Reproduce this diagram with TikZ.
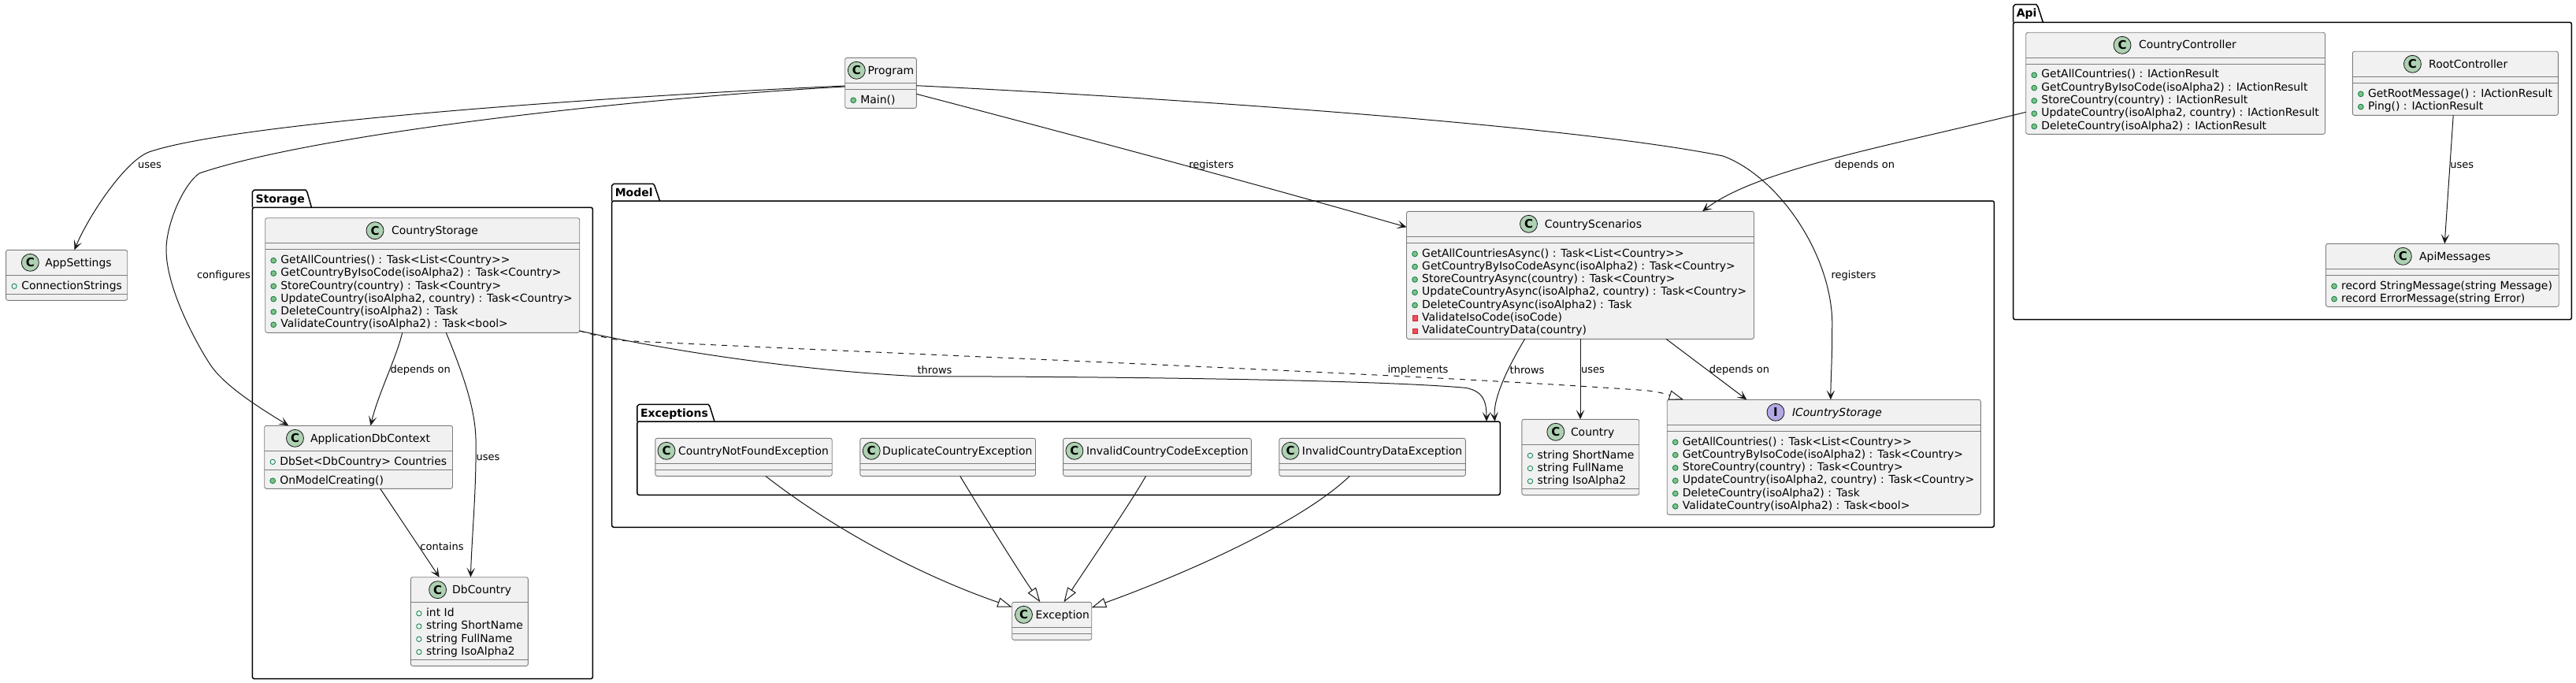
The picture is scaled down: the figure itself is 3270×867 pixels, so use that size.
\documentclass[tikz,border=0pt]{standalone}
\usepackage{fontspec}
\usetikzlibrary{arrows.meta}
\newfontfamily\djv{DejaVu Sans}
\definecolor{ln}{HTML}{181818}
\definecolor{boxfill}{HTML}{F1F1F1}
\definecolor{boxline}{HTML}{7C7C7C}
\definecolor{ccirc}{HTML}{ADD1B2}
\definecolor{icirc}{HTML}{B4A7E5}
\definecolor{pubfill}{HTML}{84BE84}
\definecolor{publine}{HTML}{038048}
\definecolor{privfill}{HTML}{F24D5C}
\definecolor{privline}{HTML}{C82930}
\tikzset{
  cbox/.style={draw=boxline,fill=boxfill,line width=.9pt,rounded corners=2.5pt,anchor=north west,inner sep=0pt,outer sep=0pt},
  sepline/.style={draw=boxline,line width=.9pt},
  titletxt/.style={anchor=base west,inner sep=0pt,font=\djv\fontsize{13.92}{16}\selectfont},
  rowtxt/.style={anchor=base west,inner sep=0pt,font=\djv\fontsize{13.92}{16}\selectfont},
  badge/.style={circle,draw=ln,line width=.8pt,minimum size=22pt,inner sep=0pt,font=\djv\bfseries\fontsize{15}{15}\selectfont},
  fielddot/.style={circle,draw=publine,line width=.8pt,minimum size=6.4pt,inner sep=0pt},
  methdot/.style={circle,draw=publine,fill=pubfill,line width=.8pt,minimum size=6.8pt,inner sep=0pt},
  privdot/.style={rectangle,draw=privline,fill=privfill,line width=.6pt,minimum size=6.4pt,inner sep=0pt},
  pkgbody/.style={draw=black,line width=1.5pt,rounded corners=2.5pt,anchor=north west,inner sep=0pt,outer sep=0pt},
  pkgtab/.style={draw=black,line width=1.5pt,line join=round},
  pkgtxt/.style={anchor=base west,inner sep=0pt,font=\djv\bfseries\fontsize{14}{16}\selectfont},
  conn/.style={draw=ln,line width=1pt,-{Stealth[length=12pt,width=10.5pt,inset=6pt]}},
  inherit/.style={draw=ln,line width=1pt,-{Triangle[open,fill=white,length=18.5pt,width=12.5pt]}},
  realize/.style={draw=ln,line width=1pt,dash pattern=on 7pt off 7pt,-{Triangle[open,fill=white,length=18.5pt,width=12.5pt,line width=1pt]}},
  edgelab/.style={anchor=center,inner sep=0pt,font=\djv\fontsize{13}{15}\selectfont}
}
\newcount\rowno
\def\theletter{C}\def\thecirc{ccirc}
% id x1 y1 x2 y2 sep2 cx tx title
\newcommand{\classbox}[9]{%
  \pgfmathsetmacro\bxw{#4-#2}\pgfmathsetmacro\bxh{#5-#3}%
  \pgfmathsetmacro\bxsa{#3+32}\pgfmathsetmacro\bxcy{#3+16}\pgfmathsetmacro\bxby{#3+20.7}%
  \node[cbox,minimum width=\bxw pt,minimum height=\bxh pt] (#1) at (#2,#3) {};
  \draw[sepline] (#2,\bxsa) -- (#4,\bxsa);
  \draw[sepline] (#2,#6) -- (#4,#6);
  \node[badge,fill=\thecirc] (#1-badge) at (#7,\bxcy) {\theletter};
  \node[titletxt] (#1-title) at (#8,\bxby) {#9};
}
\newcommand{\setrows}[3]{\def\curid{#1}\def\curx{#2}\def\cursep{#3}\rowno=0 }
\newcommand{\dorow}[2]{%
  \pgfmathsetmacro\rwy{\cursep+17.7+\the\rowno*16.3}%
  \pgfmathsetmacro\rwdy{\rwy-3.7}%
  \pgfmathsetmacro\rwdx{\curx+10.5}%
  \pgfmathsetmacro\rwtx{\curx+19.5}%
  \node[#1] (\curid-d\the\rowno) at (\rwdx,\rwdy) {};
  \node[rowtxt] (\curid-r\the\rowno) at (\rwtx,\rwy) {#2};
  \advance\rowno by 1 }
\newcommand{\frow}[1]{\dorow{fielddot}{#1}}
\newcommand{\mrow}[1]{\dorow{methdot}{#1}}
\newcommand{\prow}[1]{\dorow{privdot}{#1}}
% id x1 tabtop bodytop x2 y2 tabr tabr2 label
\newcommand{\package}[9]{%
  \pgfmathsetmacro\pkw{#5-#2}\pgfmathsetmacro\pkh{#6-#4}%
  \pgfmathsetmacro\pky{#3+16.3}\pgfmathsetmacro\pkx{#2+4}%
  \node[pkgbody,minimum width=\pkw pt,minimum height=\pkh pt] (#1) at (#2,#4) {};
  \draw[pkgtab] (#2,#4) -- (#2,#3+2.5) -- (#2+2.5,#3) -- (#7,#3) -- (#7+2,#3+2.5) -- (#8,#4);
  \node[pkgtxt] (#1-label) at (\pkx,\pky) {#9};
}
\begin{document}
\begin{tikzpicture}[x=1pt,y=-1pt]
\useasboundingbox (0,0) rectangle (3270,867);
% packages
\package{pStorage}{320.4}{241}{263.3}{752.4}{861.7}{387.8}{395.4}{Storage}
\package{pModel}{776.6}{233.3}{255}{2531.4}{669.3}{829}{837.5}{Model}
\package{pExc}{808.8}{513.3}{535}{1904.3}{628.3}{899}{907}{Exceptions}
\package{pApi}{2555.6}{5.7}{28.3}{3264.4}{405.7}{2584.8}{2593.4}{Api}
% classes
\classbox{prog}{1072.7}{73.3}{1163.3}{137.3}{113.3}{1087.3}{1101.3}{Program}
\setrows{prog}{1072.7}{113.3}\mrow{Main()}
\classbox{appset}{7.6}{317.3}{161.7}{381.3}{373.3}{38.3}{57.1}{AppSettings}
\setrows{appset}{7.6}{349.3}\frow{ConnectionStrings}
\classbox{cstore}{336.7}{276.7}{735.7}{422.3}{316.7}{476}{497}{CountryStorage}
\setrows{cstore}{336.7}{316.7}
\mrow{GetAllCountries() : Task<List<Country>>}
\mrow{GetCountryByIsoCode(isoAlpha2) : Task<Country>}
\mrow{StoreCountry(country) : Task<Country>}
\mrow{UpdateCountry(isoAlpha2, country) : Task<Country>}
\mrow{DeleteCountry(isoAlpha2) : Task}
\mrow{ValidateCountry(isoAlpha2) : Task<bool>}
\classbox{appdb}{335.7}{540.3}{574.5}{620.3}{596.3}{374.5}{393.9}{ApplicationDbContext}
\setrows{appdb}{335.7}{572.3}\frow{DbSet<DbCountry> Countries}
\setrows{appdbm}{335.7}{596.3}\mrow{OnModelCreating()}
\classbox{dbc}{521.4}{732.7}{670.4}{845.3}{837.3}{555.6}{574}{DbCountry}
\setrows{dbc}{521.4}{764.7}
\frow{int Id}\frow{string ShortName}\frow{string FullName}\frow{string IsoAlpha2}
\classbox{cnf}{831.8}{556.3}{1056.2}{604.3}{596.3}{846}{861}{CountryNotFoundException}
\classbox{dup}{1091.8}{556.3}{1314.5}{604.3}{596.3}{1106.2}{1120}{DuplicateCountryException}
\classbox{icode}{1349.6}{556.3}{1588.4}{604.3}{596.3}{1363.9}{1378.8}{InvalidCountryCodeException}
\classbox{idata}{1623.9}{556.3}{1860.3}{604.3}{596.3}{1638}{1652.7}{InvalidCountryDataException}
\classbox{exn}{1284.7}{764.3}{1385.7}{812.3}{804.3}{1299.5}{1314.3}{Exception}
\classbox{scen}{1785.5}{268.3}{2226.5}{430.3}{308.3}{1940.5}{1960.7}{CountryScenarios}
\setrows{scen}{1785.5}{308.3}
\mrow{GetAllCountriesAsync() : Task<List<Country>>}
\mrow{GetCountryByIsoCodeAsync(isoAlpha2) : Task<Country>}
\mrow{StoreCountryAsync(country) : Task<Country>}
\mrow{UpdateCountryAsync(isoAlpha2, country) : Task<Country>}
\mrow{DeleteCountryAsync(isoAlpha2) : Task}
\prow{ValidateIsoCode(isoCode)}
\prow{ValidateCountryData(country)}
\classbox{country}{1931.9}{532.3}{2080.7}{628.3}{620.3}{1974.8}{1993.8}{Country}
\setrows{country}{1931.9}{564.3}
\frow{string ShortName}\frow{string FullName}\frow{string IsoAlpha2}
\def\theletter{I}\def\thecirc{icirc}
\classbox{ics}{2116.2}{507.3}{2514.3}{653.3}{547.3}{2254}{2274.8}{\itshape ICountryStorage}
\def\theletter{C}\def\thecirc{ccirc}
\setrows{ics}{2116.2}{547.3}
\mrow{GetAllCountries() : Task<List<Country>>}
\mrow{GetCountryByIsoCode(isoAlpha2) : Task<Country>}
\mrow{StoreCountry(country) : Task<Country>}
\mrow{UpdateCountry(isoAlpha2, country) : Task<Country>}
\mrow{DeleteCountry(isoAlpha2) : Task}
\mrow{ValidateCountry(isoAlpha2) : Task<bool>}
\classbox{cctrl}{2571.7}{41.3}{2951.5}{170.3}{81.3}{2694}{2714.8}{CountryController}
\setrows{cctrl}{2571.7}{81.3}
\mrow{GetAllCountries() : IActionResult}
\mrow{GetCountryByIsoCode(isoAlpha2) : IActionResult}
\mrow{StoreCountry(country) : IActionResult}
\mrow{UpdateCountry(isoAlpha2, country) : IActionResult}
\mrow{DeleteCountry(isoAlpha2) : IActionResult}
\classbox{rctrl}{2986.3}{65.3}{3247.3}{146.3}{105.3}{3062.4}{3083}{RootController}
\setrows{rctrl}{2986.3}{105.3}
\mrow{GetRootMessage() : IActionResult}
\mrow{Ping() : IActionResult}
\classbox{apimsg}{2952.5}{309.3}{3248.2}{389.3}{349.3}{3050.3}{3070.9}{ApiMessages}
\setrows{apimsg}{2952.5}{349.3}
\mrow{record StringMessage(string Message)}
\mrow{record ErrorMessage(string Error)}
% connectors
\draw[conn] ([yshift=-35.7pt]prog.north west) .. controls (780,122) and (300,155) .. (189,193) .. controls (158,205) and (112,275) .. ([xshift=86.8pt]appset.north west);
\draw[conn] ([yshift=-36.7pt]prog.north west) .. controls (800,125) and (400,170) .. (253,220) .. controls (232,235) and (211,285) .. (211,317) .. controls (211,370) and (255,445) .. (267,463) .. controls (285,490) and (330,518) .. ([xshift=30.6pt]appdb.north west);
\draw[conn] ([yshift=-46pt]prog.north east) .. controls (1380,176) and (1600,235) .. ([yshift=-20pt]scen.north west);
\draw[conn] ([yshift=-35.4pt]prog.north east) .. controls (1500,125) and (2000,160) .. (2187,198) .. controls (2260,225) and (2330,330) .. (2325.6,420) .. controls (2326,450) and (2324,480) .. ([xshift=207.6pt]ics.north west);
\draw[conn] ([yshift=-101pt]cctrl.north west) .. controls (2400,185) and (2230,215) .. ([xshift=375.5pt]scen.north west);
\draw[conn] ([xshift=150.1pt]scen.south west) .. controls (1915,465) and (1895,505) .. ([xshift=-6.7pt]pExc.north east);
\draw[conn] ([xshift=220.5pt]scen.south west) -- ([xshift=74.1pt]country.north west);
\draw[conn] ([xshift=329.5pt]scen.south west) -- ([xshift=101.1pt]ics.north west);
\draw[conn] ([yshift=2.3pt]cstore.south east) .. controls (870,450) and (1040,472) .. (1166,477.7) .. controls (1400,478) and (1750,482) .. (1862,492.5) .. controls (1880,497) and (1887,505) .. ([xshift=-17.3pt]pExc.north east);
\draw[realize] ([yshift=2.3pt]cstore.south east) .. controls (760,427) and (775,430) .. (788.7,432.3) .. controls (1200,452) and (1800,475) .. (2090,495.7) .. controls (2110,498) and (2120,501.8) .. ([xshift=20.8pt]ics.north west);
\draw[conn] ([xshift=174pt]cstore.south west) .. controls (503,455) and (480,500) .. ([xshift=134.7pt]appdb.north west);
\draw[conn] ([xshift=229.6pt]cstore.south west) .. controls (590,480) and (603,520) .. (604,557) .. controls (605,620) and (599,680) .. ([xshift=76pt]dbc.north west);
\draw[conn] ([xshift=147pt]appdb.south west) -- ([xshift=36.3pt]dbc.north west);
\draw[conn] ([xshift=127.9pt]rctrl.south west) -- ([xshift=150.7pt]apimsg.north west);
\draw[inherit] ([xshift=140pt]cnf.south west) .. controls (1060,673) and (1170,731) .. ([yshift=-6.4pt]exn.north west);
\draw[inherit] ([xshift=126.9pt]dup.south west) .. controls (1240,640) and (1295,728) .. ([xshift=35.7pt]exn.north west);
\draw[inherit] ([xshift=105pt]icode.south west) .. controls (1433,642) and (1376,725) .. ([xshift=65.8pt]exn.north west);
\draw[inherit] ([xshift=89.4pt]idata.south west) .. controls (1650,665) and (1500,730) .. ([yshift=-7pt]exn.north east);
% labels
\node[edgelab] (l1) at (190,210) {uses};
\node[edgelab] (l2) at (284,350) {configures};
\node[edgelab] (l3) at (533.7,470) {depends on};
\node[edgelab] (l4) at (619.4,581) {uses};
\node[edgelab] (l5) at (561,694) {contains};
\node[edgelab] (l6) at (1537.7,210) {registers};
\node[edgelab] (l7) at (2367,210) {depends on};
\node[edgelab] (l8) at (2353,350) {registers};
\node[edgelab] (l9) at (1186.5,469.7) {throws};
\node[edgelab] (l10) at (1800,469.7) {implements};
\node[edgelab] (l11) at (1938.6,469.7) {throws};
\node[edgelab] (l12) at (2022,469.7) {uses};
\node[edgelab] (l13) at (2208,469.7) {depends on};
\node[edgelab] (l14) at (3125.3,210) {uses};
\end{tikzpicture}
\end{document}
